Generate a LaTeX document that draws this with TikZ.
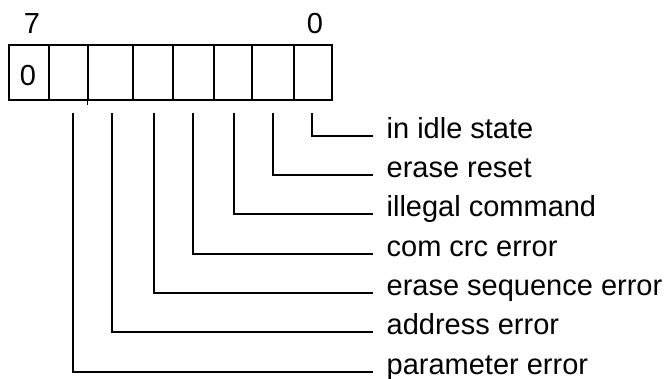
\documentclass[tikz,border=0pt]{standalone}
\usepackage{fontspec}
\setmainfont{Liberation Sans}
\usetikzlibrary{calc}
\begin{document}
\begin{tikzpicture}[x=1pt,y=-1pt,line width=1.3pt,
  cell/.style={draw,inner sep=0pt,minimum height=55pt},
  digit/.style={inner sep=0pt,font=\fontsize{29}{30}\selectfont},
  lbl/.style={anchor=mid west,inner sep=0pt,font=\fontsize{29}{30}\selectfont},
  leader/.style={line width=1.3pt}]
\useasboundingbox (0,0) rectangle (666,379);

% register bits 7..0
\node[cell,minimum width=40pt] (b7) at (29,72.5) {};
\node[cell,minimum width=39pt] (b6) at (68.5,72.5) {};
\node[cell,minimum width=45pt] (b5) at (110.5,72.5) {};
\node[cell,minimum width=40pt] (b4) at (153,72.5) {};
\node[cell,minimum width=41pt] (b3) at (193.5,72.5) {};
\node[cell,minimum width=38pt] (b2) at (233,72.5) {};
\node[cell,minimum width=42pt] (b1) at (273,72.5) {};
\node[cell,minimum width=38pt] (b0) at (313,72.5) {};
\draw (b5.south west) -- ++(0,4);

% bit numbers and fixed value
\node[digit] (n7) at (32,24) {7};
\node[digit] (n0) at (315,24) {0};
\node[digit] (v7) at (28,76) {0};

% flag names
\node[lbl] (l0) at (386,136) {in idle state};
\node[lbl] (l1) at (386,175) {erase reset};
\node[lbl] (l2) at (386,214) {illegal command};
\node[lbl] (l3) at (386,254) {com crc error};
\node[lbl] (l4) at (386,293) {erase sequence error};
\node[lbl] (l5) at (386,332) {address error};
\node[lbl] (l6) at (386,372) {parameter error};

% leader start points below the bits
\coordinate (t0) at (312,113);
\coordinate (t1) at (273,113);
\coordinate (t2) at (234,113);
\coordinate (t3) at (193,113);
\coordinate (t4) at (154,113);
\coordinate (t5) at (112,113);
\coordinate (t6) at (73,113);

\foreach \i in {0,...,6}
  \draw[leader] (t\i) |- ([xshift=-13pt]l\i.mid west);
\end{tikzpicture}
\end{document}
